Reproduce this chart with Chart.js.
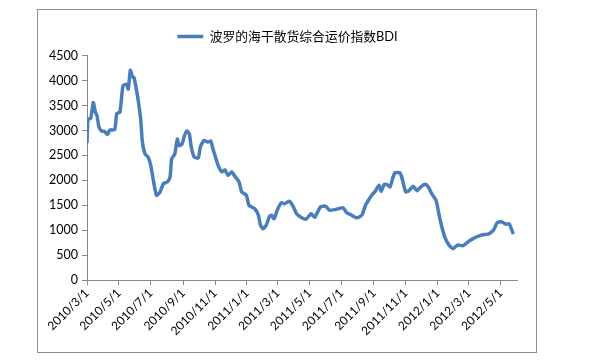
<!DOCTYPE html>
<html>
<head>
<meta charset="utf-8">
<script src="https://cdn.jsdelivr.net/npm/chart.js@4"></script>
<style>
    body { margin: 0; background: #fff; }
    #frame {
        position: absolute; left: 37px; top: 9px;
        width: 500px; height: 344px;
        border: 1px solid #8c8c8c; box-sizing: border-box;
    }
    #box { position: absolute; left: 0; top: 0; width: 498px; height: 342px; }
</style>
</head>
<body>
<div id="frame"><div id="box"><canvas id="bdiChart"></canvas></div></div>
<script>
var dates = [
    "2010/3/1", "2010/3/3", "2010/3/8", "2010/3/13", "2010/3/17", "2010/3/20", "2010/3/24", "2010/3/29",
    "2010/4/4", "2010/4/9", "2010/4/14", "2010/4/23", "2010/4/27", "2010/5/3", "2010/5/9", "2010/5/16",
    "2010/5/19", "2010/5/23", "2010/5/27", "2010/5/30", "2010/6/4", "2010/6/8", "2010/6/12", "2010/6/15",
    "2010/6/20", "2010/6/26", "2010/7/1", "2010/7/6", "2010/7/12", "2010/7/19", "2010/7/25", "2010/8/2",
    "2010/8/7", "2010/8/10", "2010/8/16", "2010/8/21", "2010/8/24", "2010/8/30", "2010/9/3", "2010/9/8",
    "2010/9/13", "2010/9/16", "2010/9/22", "2010/9/30", "2010/10/4", "2010/10/11", "2010/10/18", "2010/10/24",
    "2010/10/27", "2010/11/1", "2010/11/7", "2010/11/14", "2010/11/20", "2010/11/26", "2010/12/3", "2010/12/9",
    "2010/12/17", "2010/12/22", "2010/12/31", "2011/1/5", "2011/1/16", "2011/1/23", "2011/1/27", "2011/2/1",
    "2011/2/7", "2011/2/13", "2011/2/17", "2011/2/22", "2011/2/28", "2011/3/8", "2011/3/14", "2011/3/23",
    "2011/3/31", "2011/4/6", "2011/4/16", "2011/4/24", "2011/5/4", "2011/5/11", "2011/5/22", "2011/6/1",
    "2011/6/8", "2011/6/17", "2011/6/25", "2011/7/4", "2011/7/11", "2011/7/19", "2011/7/29", "2011/8/5",
    "2011/8/10", "2011/8/16", "2011/8/21", "2011/8/30", "2011/9/3", "2011/9/11", "2011/9/15", "2011/9/21",
    "2011/9/27", "2011/10/2", "2011/10/11", "2011/10/21", "2011/10/26", "2011/11/1", "2011/11/8", "2011/11/15",
    "2011/11/23", "2011/11/28", "2011/12/8", "2011/12/14", "2011/12/21", "2011/12/29", "2012/1/4", "2012/1/9",
    "2012/1/16", "2012/1/23", "2012/1/31", "2012/2/8", "2012/2/19", "2012/2/29", "2012/3/9", "2012/3/19",
    "2012/3/28", "2012/4/7", "2012/4/17", "2012/4/24", "2012/5/2", "2012/5/11", "2012/5/17", "2012/5/25"
];
var bdi = [
    2750, 3230, 3240, 3560, 3370, 3300, 3070, 2990,
    2980, 2920, 3010, 3020, 3340, 3370, 3900, 3930,
    3830, 4210, 4080, 4060, 3800, 3530, 3200, 2770,
    2530, 2470, 2300, 2000, 1700, 1770, 1930, 1970,
    2070, 2430, 2530, 2830, 2700, 2730, 2880, 2990,
    2930, 2700, 2470, 2450, 2670, 2800, 2770, 2790,
    2670, 2500, 2300, 2170, 2210, 2100, 2170, 2080,
    1970, 1770, 1700, 1500, 1430, 1300, 1100, 1030,
    1100, 1270, 1300, 1230, 1400, 1550, 1530, 1580,
    1470, 1330, 1250, 1220, 1330, 1260, 1470, 1480,
    1400, 1410, 1430, 1450, 1350, 1310, 1250, 1270,
    1320, 1500, 1590, 1730, 1770, 1900, 1780, 1920,
    1910, 1870, 2150, 2150, 2000, 1770, 1800, 1880,
    1790, 1850, 1920, 1870, 1730, 1600, 1300, 1070,
    830, 700, 630, 700, 690, 770, 830, 880,
    910, 920, 1000, 1150, 1170, 1120, 1130, 920
];
var tickDates = [
    "2010/3/1", "2010/5/1", "2010/7/1", "2010/9/1", "2010/11/1", "2011/1/1", "2011/3/1",
    "2011/5/1", "2011/7/1", "2011/9/1", "2011/11/1", "2012/1/1", "2012/3/1", "2012/5/1"
];
var axisEnd = "2012/6/1";

function dayNum(s) {
    var p = s.split("/");
    return (Date.UTC(+p[0], +p[1] - 1, +p[2]) - Date.UTC(2010, 2, 1)) / 86400000;
}
var tickDays = tickDates.map(dayNum);
var tickLabel = {};
tickDates.forEach(function (d) { tickLabel[dayNum(d)] = d; });

var font = "Lato, 'Noto Sans CJK SC', sans-serif";

// push the plot a bit below the legend, and centre the legend on the whole frame
var legendGap = {
    id: "legendGap",
    afterInit: function (chart) {
        var fit = chart.legend.fit;
        chart.legend.fit = function () {
            fit.call(this);
            this.height += 3;
        };
    },
    afterLayout: function (chart) {
        chart.legend.left += 10;
        chart.legend.right += 10;
    }
};

new Chart(document.querySelector("#bdiChart"), {
    type: "line",
    data: {
        datasets: [{
            label: "波罗的海干散货综合运价指数BDI",
            data: dates.map(function (d, i) { return {x: dayNum(d), y: bdi[i]}; }),
            borderColor: "#4a7ebb",
            borderWidth: 3.5,
            pointRadius: 0,
            tension: 0.2,
            fill: false
        }]
    },
    options: {
        maintainAspectRatio: false,
        animation: false,
        layout: {padding: {top: 14, right: 19, left: 0, bottom: 0}},
        plugins: {
            legend: {
                display: true,
                labels: {
                    usePointStyle: true,
                    pointStyle: "line",
                    pointStyleWidth: 26,
                    padding: 6,
                    color: "#000",
                    font: {family: font, size: 12.8}
                }
            },
            tooltip: {enabled: false}
        },
        scales: {
            x: {
                type: "linear",
                min: 0,
                max: dayNum(axisEnd),
                afterBuildTicks: function (scale) {
                    scale.ticks = tickDays.map(function (v) { return {value: v}; });
                },
                afterFit: function (scale) { scale.height = 72; },
                border: {color: "#868686"},
                grid: {drawOnChartArea: false, tickLength: 5, color: "#868686"},
                ticks: {
                    autoSkip: false,
                    maxRotation: 45,
                    minRotation: 45,
                    padding: 1,
                    color: "#000",
                    font: {family: font, size: 12},
                    callback: function (v) { return tickLabel[v]; }
                }
            },
            y: {
                min: 0,
                max: 4500,
                afterFit: function (scale) { scale.width = 49; },
                border: {color: "#868686"},
                grid: {drawOnChartArea: false, tickLength: 5, color: "#868686"},
                ticks: {
                    stepSize: 500,
                    padding: 4,
                    color: "#000",
                    font: {family: font, size: 12.5},
                    callback: function (v) { return String(v); }
                }
            }
        }
    },
    plugins: [legendGap]
});
</script>
</body>
</html>
